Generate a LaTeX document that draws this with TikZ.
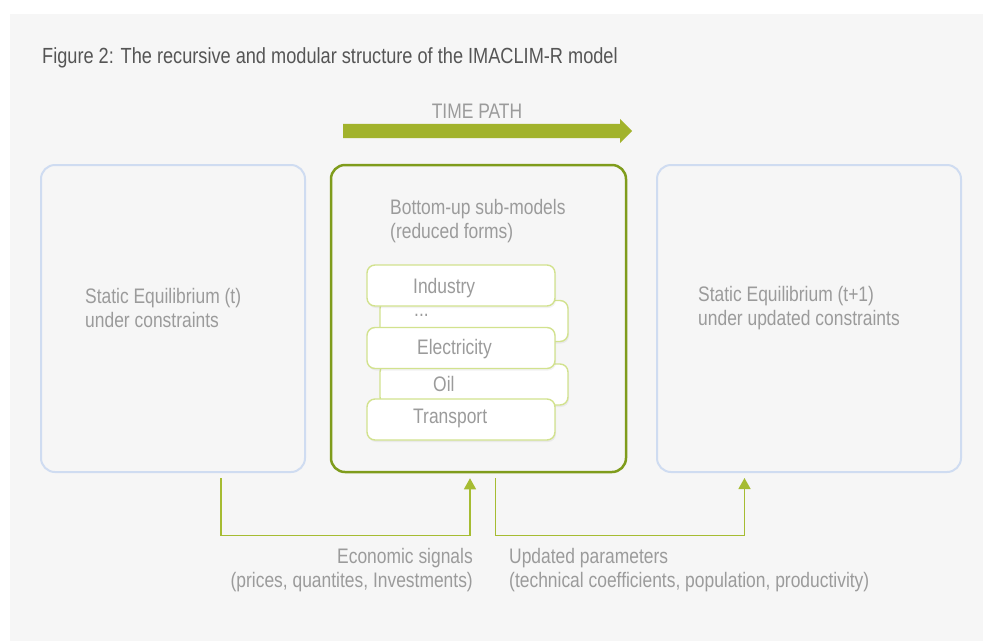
\documentclass[tikz,border=0pt]{standalone}
\usepackage{fontspec}
\setmainfont{Liberation Sans}[FakeStretch=0.83]
\usetikzlibrary{arrows.meta,shapes.arrows,shadows}

\definecolor{bggray}{HTML}{F6F6F6}
\definecolor{titlegray}{HTML}{555555}
\definecolor{txtgray}{HTML}{9B9B9B}
\definecolor{pathgreen}{HTML}{A2B32C}
\definecolor{modgreen}{HTML}{7F9C1C}
\definecolor{subgreen}{HTML}{D2E28E}
\definecolor{siggreen}{HTML}{A6BC32}
\definecolor{eqblue}{HTML}{CFDCF1}

\begin{document}
\begin{tikzpicture}[x=1pt,y=-1pt,
    every node/.style={font=\fontsize{21}{24}\selectfont},
    txt/.style={text=txtgray,align=left,inner sep=0pt},
    titletxt/.style={text=titlegray,inner sep=0pt,font=\fontsize{21.9}{24}\selectfont},
    eqbox/.style={draw=eqblue,line width=2pt,rounded corners=14pt,
      minimum width=#1,minimum height=307pt,inner sep=0pt},
    modbox/.style={draw=modgreen,line width=2.5pt,rounded corners=14pt,
      minimum width=295pt,minimum height=307pt,inner sep=0pt},
    subbox/.style={draw=subgreen,fill=white,line width=1.4pt,rounded corners=8pt,
      minimum width=188pt,minimum height=41pt,inner sep=0pt,
      drop shadow={opacity=0.10,shadow xshift=1pt,shadow yshift=-2pt}},
    timearrow/.style={single arrow,fill=pathgreen,draw=none,inner xsep=0pt,
      inner ysep=7pt,minimum height=289pt,single arrow head extend=5pt},
    signal/.style={draw=siggreen,line width=1.3pt,shorten <=5pt,shorten >=5pt,
      -{Triangle[length=11pt,width=12pt]}}]
  \useasboundingbox (0,0) rectangle (983,641);
  \fill[bggray] (10,14) rectangle (983,641);

  % heading and time path
  \node[titletxt,anchor=base west] (title) at (42,63)
    {Figure 2: The recursive and modular structure of the IMACLIM-R model};
  \node[txt,anchor=base] (timetxt) at (477,118) {TIME PATH};
  \node[timearrow,anchor=tail] (timepath) at (343,131) {};

  % the three blocks
  \node[eqbox=264pt] (leftbox) at (173,318.5) {};
  \node[modbox] (midbox) at (478.5,318.5) {};
  \node[eqbox=304pt] (rightbox) at (809,318.5) {};

  \node[txt,anchor=west] (lefttxt) at (85,308)
    {Static Equilibrium (t)\\under constraints};
  \node[txt,anchor=west] (righttxt) at (698,308)
    {Static Equilibrium (t+1)\\under updated constraints};
  \node[txt,anchor=west] (midtxt) at (390,221)
    {Bottom-up sub-models\\(reduced forms)};

  % sub-models, back row first
  \node[subbox] (dotsbox) at (474,321) {};
  \node[subbox] (oilbox) at (474,384.5) {};
  \node[subbox] (indbox) at (461,285.5) {};
  \node[subbox] (elecbox) at (461,348) {};
  \node[subbox] (transbox) at (461,419.5) {};

  \node[txt,anchor=base west] (indtxt) at (413,293.5) {Industry};
  \node[txt,anchor=base west] (dotstxt) at (414,316) {...};
  \node[txt,anchor=base west] (electxt) at (417,354.5) {Electricity};
  \node[txt,anchor=base west] (oiltxt) at (433,391.5) {Oil};
  \node[txt,anchor=base west] (transtxt) at (413,423.5) {Transport};

  % feedback connectors
  \draw[signal] ([xshift=48pt]leftbox.south) -- ++(0,62.5)
    -| ([xshift=-8.5pt]midbox.south);
  \draw[signal] ([xshift=17pt]midbox.south) -- ++(0,62.5)
    -| ([xshift=-64.5pt]rightbox.south);

  \node[txt,anchor=east,align=right] (sigtxt) at (473,570)
    {Economic signals\\(prices, quantites, Investments)};
  \node[txt,anchor=west] (paramtxt) at (509,570)
    {Updated parameters\\(technical coefficients, population, productivity)};
\end{tikzpicture}
\end{document}
